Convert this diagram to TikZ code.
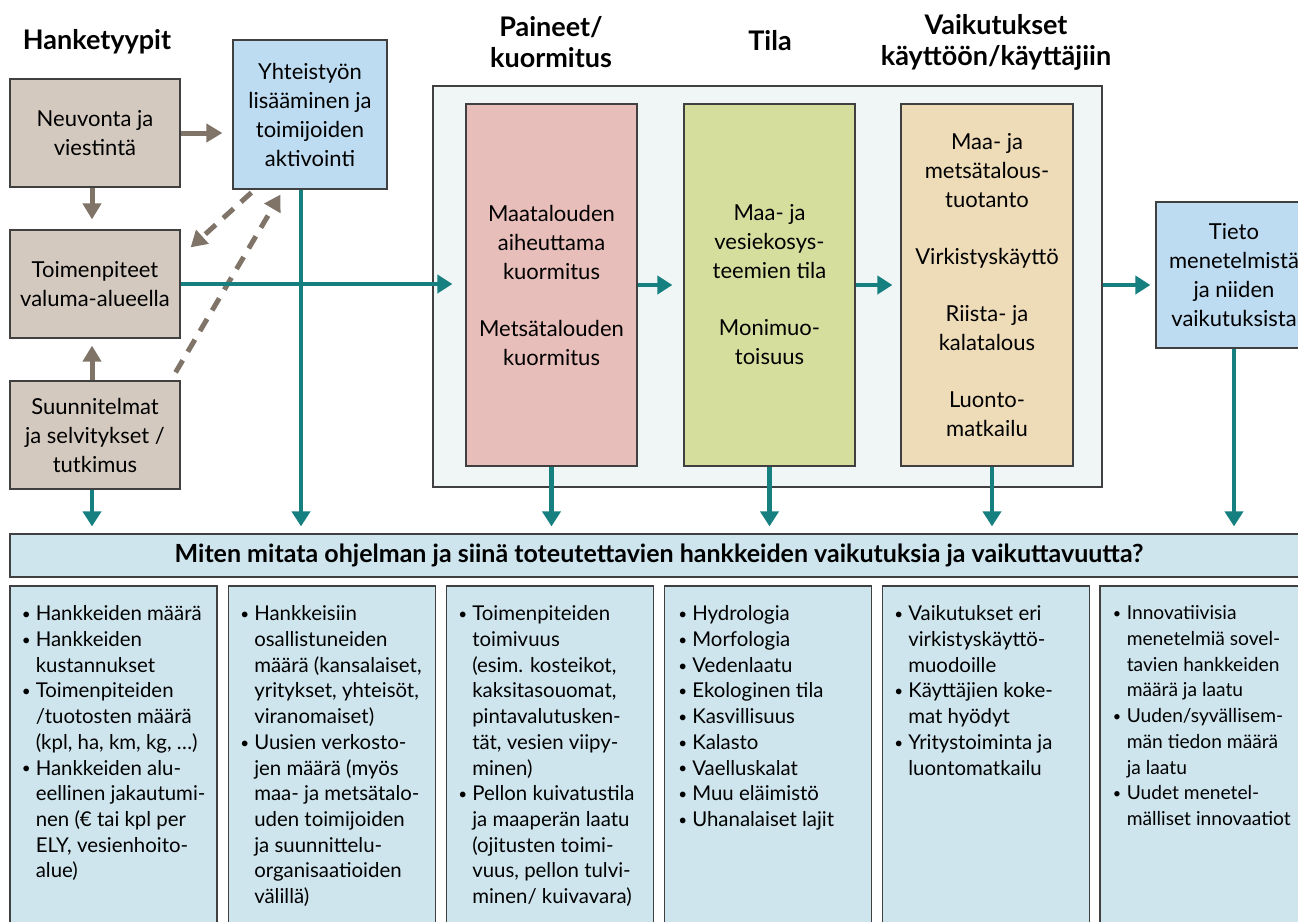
\documentclass[tikz,border=0pt]{standalone}
\usepackage{fontspec}
\usepackage{graphicx}
\setmainfont{Lato}
\usetikzlibrary{arrows.meta}

\definecolor{tanfill}{RGB}{212,201,191}
\definecolor{tanline}{RGB}{128,116,104}
\definecolor{bluefill}{RGB}{189,219,241}
\definecolor{tealline}{RGB}{22,128,128}
\definecolor{framefill}{RGB}{240,245,245}
\definecolor{pinkfill}{RGB}{232,190,186}
\definecolor{greenfill}{RGB}{214,222,158}
\definecolor{peachfill}{RGB}{238,220,184}
\definecolor{listfill}{RGB}{206,229,238}
\definecolor{boxline}{RGB}{64,64,64}

\newcommand{\pallo}{\makebox[7pt][l]{\raisebox{0.6pt}{\scalebox{0.75}{\textbullet}}}}
\newcommand{\jatk}{\hspace*{7pt}}

\begin{document}
\begin{tikzpicture}[x=0.5pt,y=-0.5pt,
    box/.style={draw=boxline, line width=0.6pt, align=center, inner sep=0pt,
                font=\fontsize{11}{14.5}\selectfont},
    tanbox/.style={box, fill=tanfill, minimum width=85pt, minimum height=54pt},
    bluebox/.style={box, fill=bluefill},
    colbox/.style={box, minimum width=85.5pt, minimum height=181pt},
    head/.style={align=center, inner sep=0pt, font=\fontsize{13.5}{15.5}\selectfont\bfseries},
    listbox/.style={draw=boxline, line width=0.6pt, fill=listfill, minimum width=103.5pt,
                    minimum height=177pt, inner sep=0pt},
    lista/.style={anchor=north west, align=left, inner sep=0pt,
                  font=\fontsize{10.2}{12.85}\selectfont},
    grayarr/.style={draw=tanline, line width=2.5pt, -{Triangle[length=8pt,width=9pt]}},
    dashline/.style={dash pattern=on 7pt off 5pt},
    tealarr/.style={draw=tealline, line width=2.3pt, -{Triangle[length=7.5pt,width=9pt]}}]

\useasboundingbox (0,0) rectangle (1298,922);

% hanketyypit
\node[head] (hank) at (97,42) {Hanketyypit};
\node[tanbox] (neuvonta) at (95,133) {Neuvonta ja\\viestintä};
\node[tanbox] (toimen) at (95,284) {Toimenpiteet\\valuma-alueella};
\node[tanbox] (suunn) at (95,435) {Suunnitelmat\\ja selvitykset /\\tutkimus};
\node[bluebox, minimum width=77pt, minimum height=74.5pt] (yhteis) at (310,114.5)
    {Yhteistyön\\lisääminen ja\\toimijoiden\\aktivointi};

% otsikot
\node[head] (paineet) at (551,42) {Paineet/\\kuormitus};
\node[head] (tila) at (770,41) {Tila};
\node[head] (vaik) at (996,42) {Vaikutukset\\käyttöön/käyttäjiin};

% kehys ja sarakkeet
\node[box, fill=framefill, minimum width=334.5pt, minimum height=200.5pt] (kehys) at (767.5,286.5) {};
\node[colbox, fill=pinkfill] (paine) at (551.5,285)
    {Maatalouden\\aiheuttama\\kuormitus\\[14pt]Metsätalouden\\kuormitus};
\node[colbox, fill=greenfill] (tilab) at (769.5,285)
    {Maa- ja\\vesiekosys-\\teemien tila\\[14pt]Monimuo-\\toisuus};
\node[colbox, fill=peachfill, minimum width=86pt] (kaytto) at (987,285)
    {Maa- ja\\metsätalous-\\tuotanto\\[14pt]Virkistyskäyttö\\[14pt]Riista- ja\\kalatalous\\[14pt]Luonto-\\matkailu};
\node[bluebox, minimum width=78pt, minimum height=73pt] (tieto) at (1234,275)
    {Tieto\\menetelmistä\\ja niiden\\vaikutuksista};

% kysymys
\node[draw=boxline, line width=0.6pt, fill=listfill, minimum width=649pt, minimum height=21.5pt,
      inner sep=0pt, font=\fontsize{12.5}{14}\selectfont\bfseries] (kysymys) at (659,555.5)
    {Miten mitata ohjelman ja siinä toteutettavien hankkeiden vaikutuksia ja vaikuttavuutta?};

% mittarit
\node[listbox] (s1) at (113.5,763) {};
\node[listbox] (s2) at (332,763) {};
\node[listbox] (s3) at (550,763) {};
\node[listbox] (s4) at (768,763) {};
\node[listbox] (s5) at (986,763) {};
\node[listbox] (s6) at (1203.5,763) {};

\node[lista] (l1) at ([shift={(6pt,-10pt)}]s1.north west)
    {\pallo Hankkeiden määrä\\ \pallo Hankkeiden\\ \jatk kustannukset\\
     \pallo Toimenpiteiden\\ \jatk /tuotosten määrä\\ \jatk (kpl, ha, km, kg, …)\\
     \pallo Hankkeiden alu-\\ \jatk eellinen jakautumi-\\ \jatk nen (€ tai kpl per\\
     \jatk ELY, vesienhoito-\\ \jatk alue)};
\node[lista] (l2) at ([shift={(6pt,-10pt)}]s2.north west)
    {\pallo Hankkeisiin\\ \jatk osallistuneiden\\ \jatk määrä (kansalaiset,\\
     \jatk yritykset, yhteisöt,\\ \jatk viranomaiset)\\
     \pallo Uusien verkosto-\\ \jatk jen määrä (myös\\ \jatk maa- ja metsätalo-\\
     \jatk uden toimijoiden\\ \jatk ja suunnittelu-\\ \jatk organisaatioiden\\ \jatk välillä)};
\node[lista] (l3) at ([shift={(6pt,-10pt)}]s3.north west)
    {\pallo Toimenpiteiden\\ \jatk toimivuus\\ \jatk (esim. kosteikot,\\
     \jatk kaksitasouomat,\\ \jatk pintavalutusken-\\ \jatk tät, vesien viipy-\\ \jatk minen)\\
     \pallo Pellon kuivatustila\\ \jatk ja maaperän laatu\\ \jatk (ojitusten toimi-\\
     \jatk vuus, pellon tulvi-\\ \jatk minen/ kuivavara)};
\node[lista] (l4) at ([shift={(7pt,-10pt)}]s4.north west)
    {\pallo Hydrologia\\ \pallo Morfologia\\ \pallo Vedenlaatu\\ \pallo Ekologinen tila\\
     \pallo Kasvillisuus\\ \pallo Kalasto\\ \pallo Vaelluskalat\\ \pallo Muu eläimistö\\
     \pallo Uhanalaiset lajit};
\node[lista] (l5) at ([shift={(6pt,-10pt)}]s5.north west)
    {\pallo Vaikutukset eri\\ \jatk virkistyskäyttö-\\ \jatk muodoille\\
     \pallo Käyttäjien koke-\\ \jatk mat hyödyt\\
     \pallo Yritystoiminta ja\\ \jatk luontomatkailu};
\node[lista, font=\fontsize{9.6}{12.85}\selectfont] (l6) at ([shift={(6.5pt,-10pt)}]s6.north west)
    {\pallo Innovatiivisia\\ \jatk menetelmiä sovel-\\ \jatk tavien hankkeiden\\
     \jatk määrä ja laatu\\ \pallo Uuden/syvällisem-\\ \jatk män tiedon määrä\\
     \jatk ja laatu\\ \pallo Uudet menetel-\\ \jatk mälliset innovaatiot};

% harmaat nuolet
\draw[grayarr, shorten >=5pt] (neuvonta.east) -- (neuvonta.east -| yhteis.west);
\draw[grayarr, shorten >=5pt] ([xshift=-1.5pt]neuvonta.south) -- ([xshift=-1.5pt]neuvonta.south |- toimen.north);
\draw[grayarr, shorten >=3.5pt] ([xshift=-1.5pt]suunn.north) -- ([xshift=-1.5pt]suunn.north |- toimen.south);
\draw[grayarr, dashline] ([shift={(9.5pt,-1.5pt)}]yhteis.south west) -- ([shift={(5pt,-9pt)}]toimen.north east);
\draw[grayarr, dashline] ([shift={(-2.5pt,4pt)}]suunn.north east) -- ([shift={(24pt,-2.5pt)}]yhteis.south west);

% turkoosit nuolet
\draw[tealarr, shorten >=6.5pt] (toimen.east) -- (toimen.east -| paine.west);
\draw[tealarr, shorten >=5.5pt] (paine.east) -- (tilab.west);
\draw[tealarr, shorten >=4pt] (tilab.east) -- (kaytto.west);
\draw[tealarr, shorten >=2.5pt] (kehys.east |- paine.east) -- (tieto.west |- paine.east);
\draw[tealarr, shorten >=3.5pt] ([xshift=-1.5pt]suunn.south) -- ([xshift=-1.5pt]suunn.south |- kysymys.north);
\draw[tealarr, shorten >=3.5pt] ([xshift=-4.5pt]yhteis.south) -- ([xshift=-4.5pt]yhteis.south |- kysymys.north);
\draw[tealarr, shorten >=3.5pt] (paine.south) -- (paine.south |- kysymys.north);
\draw[tealarr, shorten >=3.5pt] (tilab.south) -- (tilab.south |- kysymys.north);
\draw[tealarr, shorten >=3.5pt] ([xshift=2.5pt]kaytto.south) -- ([xshift=2.5pt]kaytto.south |- kysymys.north);
\draw[tealarr, shorten >=3.5pt] (tieto.south) -- (tieto.south |- kysymys.north);
\end{tikzpicture}
\end{document}
